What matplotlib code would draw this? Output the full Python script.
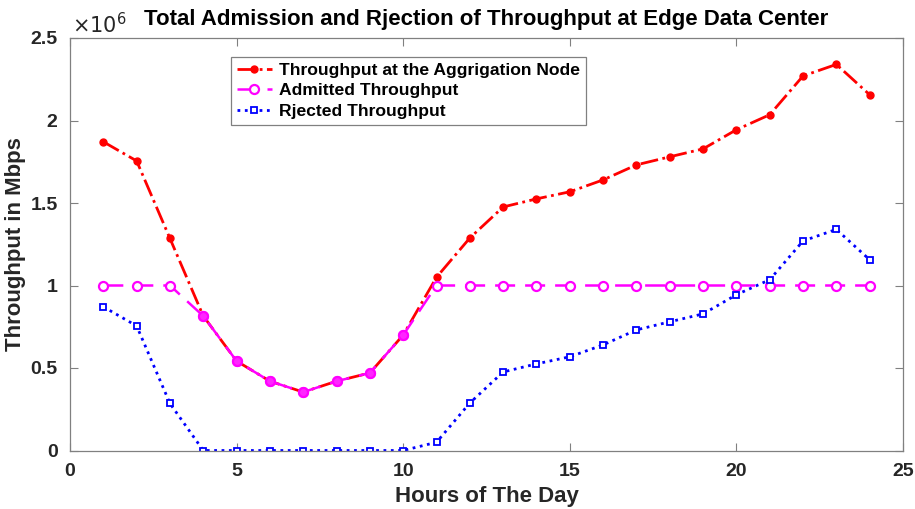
import matplotlib
matplotlib.use('Agg')
import matplotlib.pyplot as plt
from matplotlib.ticker import FuncFormatter

plt.rcParams['font.family'] = ['Liberation Sans', 'DejaVu Sans']

# Hours of the day and throughput values (Mbps)
hours = list(range(1, 25))
aggregation = [1.871e6, 1.755e6, 1.285e6, 0.815e6, 0.542e6, 0.42e6, 0.354e6, 0.42e6,
               0.47e6, 0.70e6, 1.05e6, 1.288e6, 1.476e6, 1.525e6, 1.568e6, 1.64e6,
               1.731e6, 1.78e6, 1.828e6, 1.944e6, 2.035e6, 2.27e6, 2.34e6, 2.156e6]
admitted = [1.0e6, 1.0e6, 1.0e6, 0.815e6, 0.542e6, 0.42e6, 0.354e6, 0.42e6,
            0.47e6, 0.70e6, 1.0e6, 1.0e6, 1.0e6, 1.0e6, 1.0e6, 1.0e6,
            1.0e6, 1.0e6, 1.0e6, 1.0e6, 1.0e6, 1.0e6, 1.0e6, 1.0e6]
rejected = [0.871e6, 0.755e6, 0.285e6, 0, 0, 0, 0, 0, 0, 0,
            0.05e6, 0.288e6, 0.476e6, 0.525e6, 0.568e6, 0.64e6,
            0.731e6, 0.78e6, 0.828e6, 0.944e6, 1.035e6, 1.27e6, 1.34e6, 1.156e6]

fig = plt.figure(figsize=(9.15, 5.09), dpi=100)
ax = fig.add_axes([70/915, 1 - 450.5/509, 833/915, 412.5/509])

ax.plot(hours, aggregation, color='red', linestyle='-.', linewidth=2,
        marker='o', markersize=5, label='Throughput at the Aggrigation Node')
ax.plot(hours, admitted, color='magenta', linestyle=(0, (8, 4)), linewidth=1.8,
        marker='o', markersize=6.5, markerfacecolor='white', markeredgewidth=1.6,
        label='Admitted Throughput')
# filled look where admitted equals aggregation
ax.plot([h for h, a, b in zip(hours, aggregation, admitted) if a == b],
        [b for a, b in zip(aggregation, admitted) if a == b],
        linestyle='none', marker='o', markersize=7, color='magenta', alpha=0.85)
ax.plot(hours, rejected, color='blue', linestyle=':', linewidth=2,
        marker='s', markersize=4.5, markerfacecolor='white', markeredgewidth=1.3,
        label='Rjected Throughput')

ax.set_xlim(0, 25)
ax.set_ylim(0, 2.5e6)
ax.set_xticks([0, 5, 10, 15, 20, 25])
ax.set_yticks([0, 0.5e6, 1e6, 1.5e6, 2e6, 2.5e6])
ax.yaxis.set_major_formatter(FuncFormatter(lambda v, p: f'{v/1e6:g}'))

ax.tick_params(direction='in', top=True, right=True, length=6, width=0.8,
               color='#808080', labelsize=14, labelcolor='#262626', pad=9)
for lab in ax.get_xticklabels() + ax.get_yticklabels():
    lab.set_fontweight('bold')
for sp in ax.spines.values():
    sp.set_color('#808080')
    sp.set_linewidth(0.9)

ax.text(0.003, 1.003, r'$\times10^{6}$', transform=ax.transAxes, fontsize=15,
        color='#262626', ha='left', va='bottom')
ax.set_title('Total Admission and Rjection of Throughput at Edge Data Center',
             fontsize=16, fontweight='bold', pad=9)
ax.set_xlabel('Hours of The Day', fontsize=16, fontweight='bold', color='#262626')
ax.set_ylabel('Throughput in Mbps', fontsize=16, fontweight='bold', color='#262626')
ax.xaxis.set_label_coords(0.5, -0.112)
ax.yaxis.set_label_coords(-0.065, 0.5)
ax.xaxis.label.set_va('center')
ax.yaxis.label.set_va('center')

leg = ax.legend(loc='upper left', bbox_to_anchor=(0.193, 0.955),
                prop={'weight': 'bold', 'size': 12.6}, fancybox=False, framealpha=1,
                edgecolor='#808080', handlelength=2.0, handletextpad=0.4,
                borderpad=0.35, labelspacing=0.3, borderaxespad=0)
leg.get_frame().set_linewidth(0.9)

fig.savefig('out.png', dpi=100)
